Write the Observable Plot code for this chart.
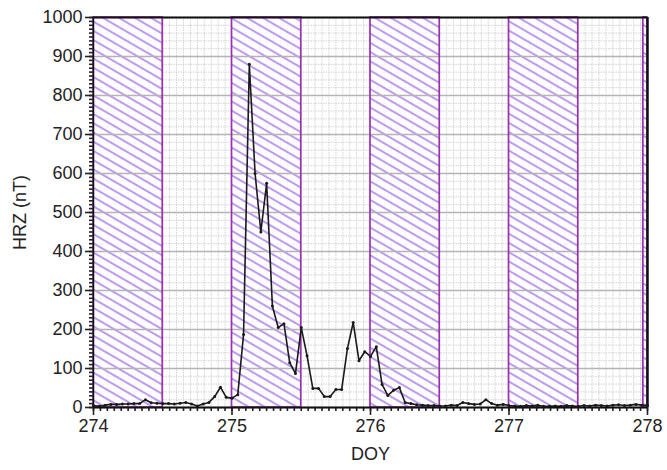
<!DOCTYPE html>
<html>
<head>
<meta charset="utf-8">
<script src="https://cdn.jsdelivr.net/npm/d3@7"></script>
<script src="https://cdn.jsdelivr.net/npm/@observablehq/plot@0.6"></script>
<style>
  html, body { margin: 0; padding: 0; background: #fff; }
  #chart { width: 667px; height: 470px; }
</style>
</head>
<body>
<div id="chart"></div>
<script>
// Hourly HRZ values (nT), starting at DOY 274.0, one sample per hour
const startDoy = 274;
const samplesPerDay = 24;
const hrz = [
  5, 3, 6, 8, 8, 9, 9, 10, 10, 20, 12, 11, 10, 10, 9, 11, 13, 9, 4, 9, 13, 28, 52, 26,
  24, 33, 187, 880, 600, 450, 575, 260, 205, 215, 115, 87, 205, 133, 49, 49, 28, 28, 46, 46,
  151, 218, 120, 143, 131, 156, 59, 31, 44, 51, 13, 10, 7, 6, 5, 5, 4, 4, 6, 5, 13, 10, 8, 9,
  20, 10, 6, 8, 5, 4, 3, 5, 4, 6, 3, 3, 4, 3, 5, 4, 3, 5, 4, 6, 5, 4, 6, 7, 5, 6, 8, 6, 5
];
// Hatched (night-side) intervals
const hatchStart = [274, 275, 276, 277, 277.97];
const hatchEnd   = [274.5, 275.5, 276.5, 277.5, 278];
// Axes
const xDomain = [274, 278];
const yDomain = [0, 1000];
const xTicks = [274, 275, 276, 277, 278];
const yTicks = [0, 100, 200, 300, 400, 500, 600, 700, 800, 900, 1000];
const xMinorStep = 0.05;
const yMinorTickStep = 10;
const yMinorGridStep = 20;

const series = hrz.map((v, i) => ({doy: startDoy + i / samplesPerDay, hrz: v}));
const hatches = hatchStart.map((s, i) => ({x1: s, x2: hatchEnd[i]}));
const nX = Math.round((xDomain[1] - xDomain[0]) / xMinorStep);
const xMinor = d3.range(0, nX + 1).map(i => xDomain[0] + i * xMinorStep);
const yMinorTicks = d3.range(yDomain[0], yDomain[1] + 1, yMinorTickStep);
const yMinorGrid = d3.range(yDomain[0], yDomain[1] + 1, yMinorGridStep);

const border = "#9a2fb2";
const font = "'Liberation Sans', Arial, sans-serif";
const fmt = d => String(d);

const svg = Plot.plot({
  width: 667,
  height: 470,
  marginTop: 17,
  marginBottom: 63,
  marginLeft: 93,
  marginRight: 20,
  style: {fontFamily: font, fontSize: "18px", color: "#222", background: "#fff"},
  x: {domain: xDomain, label: null},
  y: {domain: yDomain, label: null},
  marks: [
    Plot.gridX(xMinor, {stroke: "#c8c8c8", strokeOpacity: 0.8, strokeDasharray: "1.5,1"}),
    Plot.gridY(yMinorGrid, {stroke: "#c8c8c8", strokeOpacity: 0.8, strokeDasharray: "1.5,1"}),
    Plot.rect(hatches, {x1: "x1", x2: "x2", y1: yDomain[0], y2: yDomain[1], fill: "url(#hatch)"}),
    Plot.gridY(yTicks, {stroke: "#b4b4b4", strokeOpacity: 1, strokeWidth: 1.3}),
    Plot.rect(hatches, {x1: "x1", x2: "x2", y1: yDomain[0], y2: yDomain[1], fill: "none", stroke: border, strokeWidth: 1.7}),
    Plot.ruleY([yDomain[1]], {stroke: "#111", strokeWidth: 1.8}),
    Plot.ruleX([xDomain[1]], {stroke: "#111", strokeWidth: 2.5}),
    Plot.ruleX([xDomain[0]], {stroke: "#111", strokeWidth: 1.5}),
    Plot.axisY(yMinorTicks, {tickSize: 4, text: null, stroke: "#222", strokeWidth: 1.6}),
    Plot.axisY(yTicks, {tickSize: 8, tickPadding: 3, stroke: "#222", strokeWidth: 1.6, fontSize: 18,
      tickFormat: fmt, label: "HRZ (nT)", labelAnchor: "center", labelOffset: 80, labelArrow: "none"}),
    Plot.axisX(xMinor, {tickSize: 4, text: null, stroke: "#222", strokeWidth: 1.6}),
    Plot.axisX(xTicks, {tickSize: 8, tickPadding: 4, stroke: "#222", strokeWidth: 1.6, fontSize: 18,
      tickFormat: fmt, label: "DOY", labelAnchor: "center", labelOffset: 52, labelArrow: "none"}),
    Plot.line(series, {x: "doy", y: "hrz", stroke: "#1a1a1a", strokeWidth: 1.6}),
    Plot.dot(series, {x: "doy", y: "hrz", r: 1.5, fill: "#1a1a1a"}),
    Plot.ruleY([yDomain[0]], {stroke: "#111", strokeWidth: 1.8})
  ]
});

// Hatch pattern definition (style only)
const ns = "http://www.w3.org/2000/svg";
const defs = document.createElementNS(ns, "defs");
const pat = document.createElementNS(ns, "pattern");
pat.setAttribute("id", "hatch");
pat.setAttribute("patternUnits", "userSpaceOnUse");
pat.setAttribute("width", "8");
pat.setAttribute("height", "8");
pat.setAttribute("patternTransform", "rotate(30)");
const bg = document.createElementNS(ns, "rect");
bg.setAttribute("width", "8"); bg.setAttribute("height", "8");
bg.setAttribute("fill", "#fff"); bg.setAttribute("fill-opacity", "0.7");
const ln = document.createElementNS(ns, "line");
ln.setAttribute("x1", "0"); ln.setAttribute("y1", "4");
ln.setAttribute("x2", "8"); ln.setAttribute("y2", "4");
ln.setAttribute("stroke", "#9458e6"); ln.setAttribute("stroke-width", "1.2");
pat.appendChild(bg); pat.appendChild(ln);
defs.appendChild(pat);
svg.insertBefore(defs, svg.firstChild);

document.getElementById("chart").appendChild(svg);
</script>
</body>
</html>
